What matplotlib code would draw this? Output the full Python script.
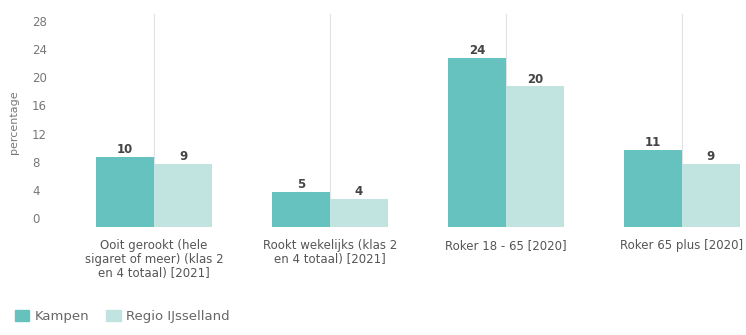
import numpy as np
import matplotlib.pyplot as plt
from matplotlib.transforms import ScaledTranslation
from matplotlib.patches import Patch

# data
categories = ["Ooit gerookt (hele\nsigaret of meer) (klas 2\nen 4 totaal) [2021]",
              "Rookt wekelijks (klas 2\nen 4 totaal) [2021]",
              "Roker 18 - 65 [2020]",
              "Roker 65 plus [2020]"]
kampen = [10, 5, 24, 11]
regio = [9, 4, 20, 9]
series_names = ["Kampen", "Regio IJsselland"]
yticks = [0, 4, 8, 12, 16, 20, 24, 28]

c_kampen = "#66c2be"
c_regio = "#c2e4e1"

W, H = 746, 335
dpi = 100
fig = plt.figure(figsize=(W / dpi, H / dpi), dpi=dpi)
# axes placed in pixel coords: left 66, right 746, top 14, bottom 227
ax = fig.add_axes([66 / W, (H - 227) / H, 680 / W, (227 - 14) / H])

x = np.arange(len(categories))
bw = 58 / 176
b1 = ax.bar(x - bw / 2, kampen, bw, color=c_kampen, zorder=2)
b2 = ax.bar(x + bw / 2, regio, bw, color=c_regio, zorder=2)

for bars, vals in [(b1, kampen), (b2, regio)]:
    for b, v in zip(bars, vals):
        ax.annotate(str(v), (b.get_x() + b.get_width() / 2, v),
                    xytext=(0, 0.5), textcoords="offset points",
                    ha="center", va="bottom", fontsize=8.5,
                    fontweight="bold", color="#444444", family="DejaVu Sans")

ax.set_xlim(-0.5, -0.5 + 680 / 176)
ax.set_ylim(0, (227 - 14) / 7.04)

# light vertical gridlines at category centres
for xi in x:
    ax.axvline(xi, color="#e2e2e2", lw=0.8, zorder=1)

for s in ax.spines.values():
    s.set_visible(False)

ax.set_xticks(x)
ax.set_xticklabels(categories, fontsize=8.5, color="#555555",
                   family="DejaVu Sans", linespacing=1.1)
ax.tick_params(axis="x", length=0, pad=8.5)

ax.set_yticks(yticks)
ax.set_yticklabels([str(t) for t in yticks], fontsize=8.5, color="#777777",
                   family="DejaVu Sans")
ax.tick_params(axis="y", length=0, pad=0)
# tick labels sit left-aligned and a bit above their values in the reference
off = ScaledTranslation(-34 / dpi, 9 / dpi, fig.dpi_scale_trans)
for lab in ax.get_yticklabels():
    lab.set_horizontalalignment("left")
    lab.set_transform(lab.get_transform() + off)

fig.text(14 / W, 1 - 122 / H, "percentage", rotation=90, fontsize=8,
         color="#777777", ha="center", va="center", family="DejaVu Sans")

handles = [Patch(color=c_kampen), Patch(color=c_regio)]
fig.legend(handles, series_names, loc="lower left",
           bbox_to_anchor=(3 / W, 0), ncol=2, frameon=False,
           handlelength=1.1, handleheight=0.9, handletextpad=0.4,
           columnspacing=1.3, prop={"family": "DejaVu Sans", "size": 9.5},
           labelcolor="#666666")

fig.savefig("out.png", dpi=dpi)
